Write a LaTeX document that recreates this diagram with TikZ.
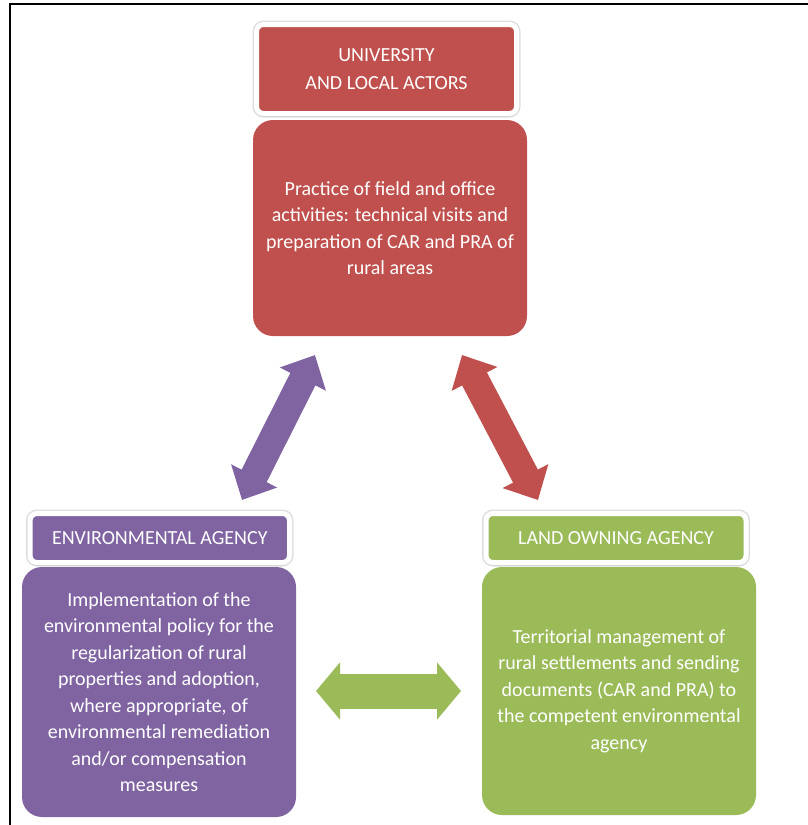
\documentclass[tikz,border=0pt]{standalone}
\usepackage{fontspec}
\setmainfont{Carlito}
\usepackage{tikz}
\usetikzlibrary{arrows.meta,shadows}
\definecolor{unired}{HTML}{C0504D}
\definecolor{envpurple}{HTML}{8064A2}
\definecolor{landgreen}{HTML}{9BBB59}

\begin{document}
\begin{tikzpicture}[x=1pt,y=-1pt,
    labelbox/.style={draw=white,line width=5pt,rounded corners=7pt,inner sep=0pt,
      text=white,align=center,font=\fontsize{20}{28}\selectfont,
      preaction={draw=black!13,line width=8pt},
      drop shadow={shadow xshift=0pt,shadow yshift=-3pt,opacity=0.2}},
    bodybox/.style={rounded corners=20pt,inner sep=0pt,minimum width=274pt,
      text=white,align=center,font=\fontsize{20}{26.5}\selectfont},
    twoway/.style={line width=28pt,{Triangle[width=50pt,length=27pt]}-{Triangle[width=50pt,length=27pt]}},
    flatway/.style={line width=35pt,{Triangle[width=56pt,length=24pt]}-{Triangle[width=56pt,length=24pt]}}]
                    \useasboundingbox (0,0) rectangle (808,825);
                    \draw[black,line width=2pt] (10,825) -- (10,4) -- (808,4);
                    \node[labelbox,fill=unired,minimum width=260pt,minimum height=89pt] (unilabel) at (386.5,69) {UNIVERSITY\\AND LOCAL ACTORS};
                    \node[bodybox,fill=unired,minimum height=216pt] (unibody) at (390,228) {Practice of field and office\\activities: technical visits and\\preparation of CAR and PRA of\\rural areas};
                    \node[labelbox,fill=envpurple,minimum width=259.5pt,minimum height=49pt] (envlabel) at (159.75,538) {ENVIRONMENTAL AGENCY};
                    \node[bodybox,fill=envpurple,minimum height=250pt] (envbody) at (159,692) {Implementation of the\\environmental policy for the\\regularization of rural\\properties and adoption,\\where appropriate, of\\environmental remediation\\and/or compensation\\measures};
                    \node[labelbox,fill=landgreen,minimum width=260pt,minimum height=49pt] (landlabel) at (616,538) {LAND OWNING AGENCY};
                    \node[bodybox,fill=landgreen,minimum height=248pt] (landbody) at (619,691) {Territorial management of\\rural settlements and sending\\documents (CAR and PRA) to\\the competent environmental\\agency};
                    \coordinate (envtip) at (242,500);
                    \coordinate (unitipl) at (315,355);
                    \coordinate (unitipr) at (462,355);
                    \coordinate (landtip) at (538,500);
                    \coordinate (envside) at (316,691);
                    \coordinate (landside) at (461,691);
                    \draw[twoway,envpurple] (envtip) -- (unitipl);
                    \draw[twoway,unired] (unitipr) -- (landtip);
                    \draw[flatway,landgreen] (envside) -- (landside);
                \end{tikzpicture}
\end{document}
